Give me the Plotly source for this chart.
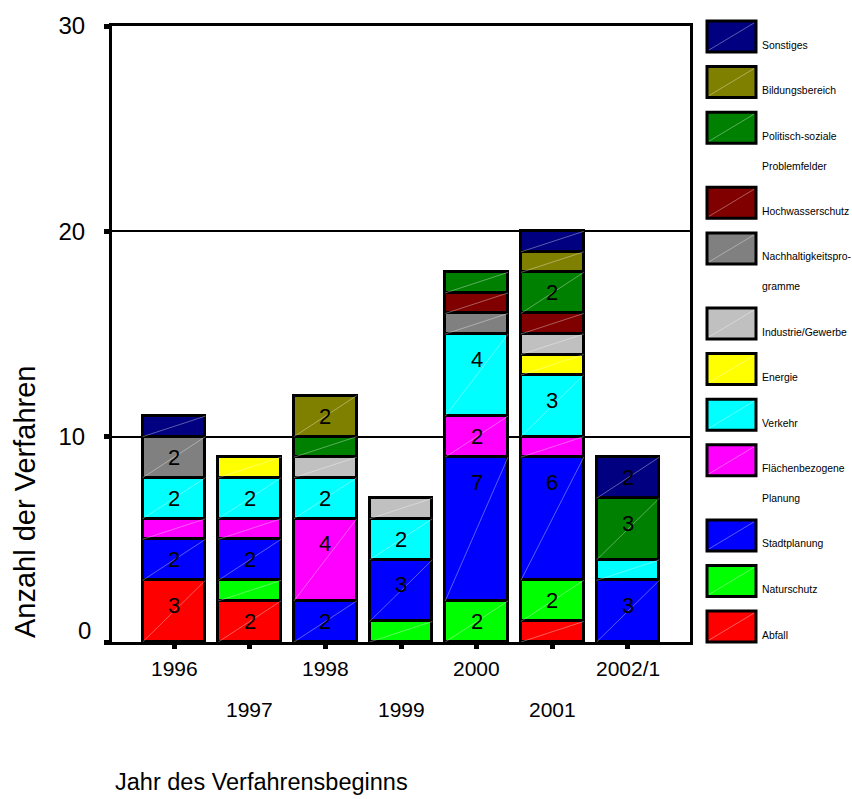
import plotly.graph_objects as go

categories = ["1996", "1997", "1998", "1999", "2000", "2001", "2002/1"]

series_names = ["Abfall", "Naturschutz", "Stadtplanung", "Flächenbezogene Planung",
                "Verkehr", "Energie", "Industrie/Gewerbe", "Nachhaltigkeitsprogramme",
                "Hochwasserschutz", "Politisch-soziale Problemfelder", "Bildungsbereich",
                "Sonstiges"]
legend_lines = [["Abfall"], ["Naturschutz"], ["Stadtplanung"], ["Flächenbezogene", "Planung"],
                ["Verkehr"], ["Energie"], ["Industrie/Gewerbe"], ["Nachhaltigkeitspro-", "gramme"],
                ["Hochwasserschutz"], ["Politisch-soziale", "Problemfelder"], ["Bildungsbereich"],
                ["Sonstiges"]]
series_colors = ["#FF0000", "#00FF00", "#0000FF", "#FF00FF", "#00FFFF", "#FFFF00",
                 "#C0C0C0", "#808080", "#800000", "#008000", "#808000", "#000080"]

abfall          = [3, 2, 0, 0, 0, 1, 0]
naturschutz     = [0, 1, 0, 1, 2, 2, 0]
stadtplanung    = [2, 2, 2, 3, 7, 6, 3]
flaechen        = [1, 1, 4, 0, 2, 1, 0]
verkehr         = [2, 2, 2, 2, 4, 3, 1]
energie         = [0, 1, 0, 0, 0, 1, 0]
industrie       = [0, 0, 1, 1, 0, 1, 0]
nachhaltigkeit  = [2, 0, 0, 0, 1, 0, 0]
hochwasser      = [0, 0, 0, 0, 1, 1, 0]
politisch       = [0, 0, 1, 0, 1, 2, 3]
bildung         = [0, 0, 2, 0, 0, 1, 0]
sonstiges       = [1, 0, 0, 0, 0, 1, 2]

series_values = [abfall, naturschutz, stadtplanung, flaechen, verkehr, energie,
                 industrie, nachhaltigkeit, hochwasser, politisch, bildung, sonstiges]

y_ticks = [0, 10, 20, 30]

FONT = "Liberation Sans, Arial, sans-serif"
BAR_W = 0.83

# plot area in pixels
W, H = 852, 799
L, R, T, B = 112, 690, 26, 642

def px_x(px):
    return (px - L) / (R - L)

def px_y(py):
    return (B - py) / (B - T)

xpos = list(range(len(categories)))

fig = go.Figure()
annotations = []
diag_x, diag_y = [], []
base = [0] * len(categories)
for name, vals, col in zip(series_names, series_values, series_colors):
    fig.add_trace(go.Bar(
        x=xpos, y=vals, base=base[:], name=name, width=BAR_W,
        marker=dict(color=col, line=dict(color="black", width=3)),
        showlegend=False,
    ))
    for i, v in enumerate(vals):
        if v > 0:
            diag_x += [i - BAR_W / 2, i + BAR_W / 2, None]
            diag_y += [base[i], base[i] + v, None]
        if v >= 2:
            top = base[i] + v
            seg_px = v * (B - T) / 30.0
            annotations.append(dict(
                x=i, y=top, xref="x", yref="y", text=str(v), showarrow=False,
                yanchor="middle", yshift=-min(25, seg_px / 2),
                font=dict(family=FONT, size=22, color="black")))
    base = [b + v for b, v in zip(base, vals)]

fig.add_trace(go.Scatter(x=diag_x, y=diag_y, mode="lines",
                         line=dict(color="rgba(255,255,255,0.45)", width=0.8),
                         hoverinfo="skip", showlegend=False))

# staggered category labels
for i, c in enumerate(categories):
    row_py = 668 if i % 2 == 0 else 709
    annotations.append(dict(
        x=i, y=px_y(row_py), xref="x", yref="paper", text=c, showarrow=False,
        yanchor="middle", font=dict(family=FONT, size=21, color="black")))

# y-axis "0" label (shifted up like the original)
annotations.append(dict(
    x=px_x(93), y=0, xref="paper", yref="y", text=str(y_ticks[0]), showarrow=False,
    xanchor="right", yanchor="middle", yshift=12,
    font=dict(family=FONT, size=24, color="black")))

# axis titles
annotations.append(dict(
    x=px_x(261.5), y=px_y(782), xref="paper", yref="paper",
    text="Jahr des Verfahrensbeginns", showarrow=False,
    xanchor="center", yanchor="middle", font=dict(family=FONT, size=23.5, color="black")))
annotations.append(dict(
    x=px_x(25), y=px_y(502), xref="paper", yref="paper",
    text="Anzahl der Verfahren", showarrow=False, textangle=-90,
    xanchor="center", yanchor="middle", font=dict(family=FONT, size=29, color="black")))

# custom legend (top = last series)
shapes = []
top_px = 21.0
for name_lines, col in zip(reversed(legend_lines), reversed(series_colors)):
    x0, x1 = 707, 756
    y0, y1 = top_px, top_px + 31
    shapes.append(dict(type="rect", xref="paper", yref="paper",
                       x0=px_x(x0), x1=px_x(x1), y0=px_y(y1), y1=px_y(y0),
                       fillcolor=col, line=dict(color="black", width=3)))
    shapes.append(dict(type="line", xref="paper", yref="paper",
                       x0=px_x(x0 + 2), x1=px_x(x1 - 2), y0=px_y(y1 - 2), y1=px_y(y0 + 2),
                       line=dict(color="rgba(255,255,255,0.45)", width=0.8)))
    for k, ln in enumerate(name_lines):
        annotations.append(dict(
            x=px_x(760), y=px_y(y1 - 7 + 30 * k), xref="paper", yref="paper",
            text=ln, showarrow=False, xanchor="left", yanchor="middle",
            font=dict(family=FONT, size=10.4, color="black")))
    top_px += 45.6 + 29.5 * (len(name_lines) - 1)

fig.update_layout(
    width=W, height=H,
    margin=dict(l=L, r=W - R, t=T, b=H - B),
    paper_bgcolor="white", plot_bgcolor="white",
    barmode="overlay", bargap=0,
    font=dict(family=FONT, size=22, color="black"),
    annotations=annotations, shapes=shapes,
    xaxis=dict(range=[-0.82, len(categories) - 1 + 0.82], tickvals=xpos,
               ticktext=[""] * len(categories), showgrid=False, zeroline=False,
               showline=True, linecolor="black", linewidth=3, mirror=True,
               ticks="outside", ticklen=4, tickwidth=5, tickcolor="black"),
    yaxis=dict(range=[0, 30], tickvals=y_ticks,
               ticktext=[""] + [str(v) for v in y_ticks[1:]],
               showgrid=True, gridcolor="black", gridwidth=2, zeroline=False,
               showline=True, linecolor="black", linewidth=3, mirror=True,
               ticks="outside", ticklen=5, tickwidth=5, tickcolor="black",
               ticklabelstandoff=14, tickfont=dict(family=FONT, size=24)),
)

fig.write_html("out.html", config={"displayModeBar": False},
               post_script="document.body.style.margin='0';document.body.style.overflow='hidden';")
